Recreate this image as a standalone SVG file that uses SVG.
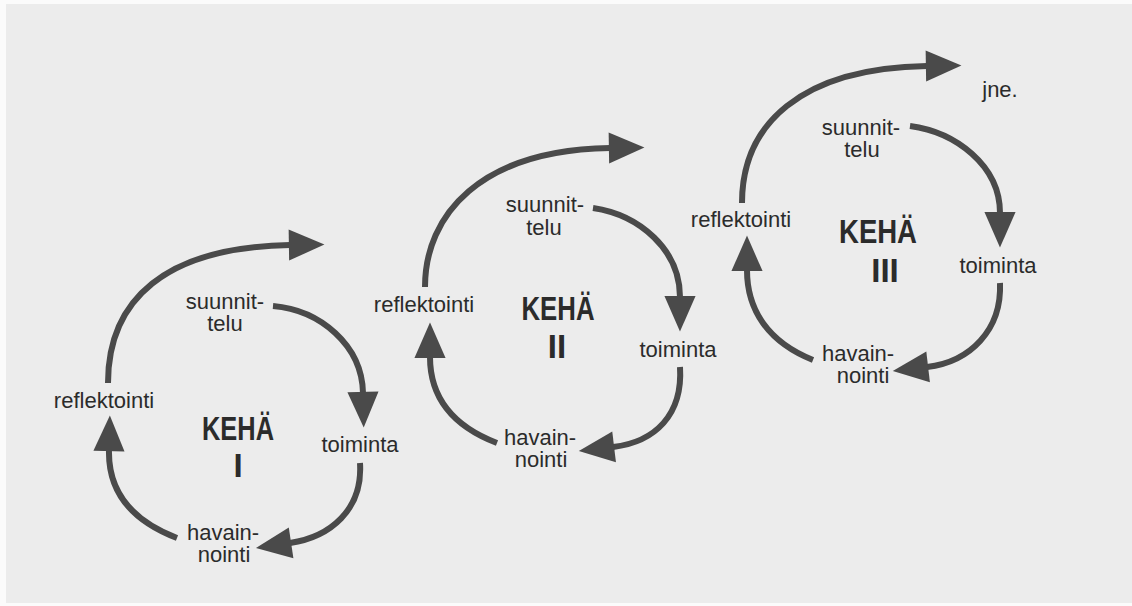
<svg xmlns="http://www.w3.org/2000/svg" width="1132" height="606" viewBox="0 0 1132 606">
  <style>
    .lbl { font-family: "Liberation Sans", Arial, sans-serif; font-size: 22px; fill: #2b2b2b; text-anchor: middle; }
    .big { font-family: "Liberation Sans", Arial, sans-serif; font-size: 33px; font-weight: bold; fill: #2b2b2b; text-anchor: middle; }
    .arc { fill: none; stroke: #4a4a4a; stroke-width: 6; marker-end: url(#head); }
  </style>
  <defs>
    <marker id="head" markerUnits="userSpaceOnUse" markerWidth="40" markerHeight="40" viewBox="-2 -15 36 30" refX="1" refY="0" orient="auto">
      <path d="M0,-14 L32,0 L0,14 Z" fill="#4a4a4a"/>
    </marker>
  </defs>
  <rect x="0" y="0" width="1132" height="606" fill="#fbfbfb"/>
  <rect x="6" y="4" width="1126" height="599" fill="#ececec"/>

  <g id="connectors">
    <!-- cycle I -->
    <path class="arc" d="M108,383 C108,300 165,247 290,245"/>
    <path class="arc" d="M273,306 C320,310 362,345 363,393"/>
    <path class="arc" d="M360,463 C363,510 330,537 290,543"/>
    <path class="arc" d="M177,538 C130,520 108,490 109,450"/>
    <!-- cycle II -->
    <path class="arc" d="M425,287 C425,215 480,150 610,148"/>
    <path class="arc" d="M593,208 C640,215 680,250 680,297"/>
    <path class="arc" d="M680,367 C683,415 655,442 613,447"/>
    <path class="arc" d="M497,443 C450,425 430,395 430,357"/>
    <!-- cycle III -->
    <path class="arc" d="M742,203 C742,125 800,68 927,66"/>
    <path class="arc" d="M910,126 C955,132 1000,165 1000,213"/>
    <path class="arc" d="M1000,283 C1002,330 970,362 927,367"/>
    <path class="arc" d="M813,360 C768,342 747,310 747,270"/>
  </g>

  <!-- cycle I -->
  <g id="c1-suunnittelu"><text class="lbl" x="225" y="309">suunnit-</text><text class="lbl" x="225" y="331">telu</text></g>
  <g id="c1-toiminta"><text class="lbl" x="360" y="452">toiminta</text></g>
  <g id="c1-havainnointi"><text class="lbl" x="223" y="540">havain-</text><text class="lbl" x="224" y="562">nointi</text></g>
  <g id="c1-reflektointi"><text class="lbl" x="104" y="408">reflektointi</text></g>
  <g id="c1-keha"><text class="big" x="238" y="440" textLength="72" lengthAdjust="spacingAndGlyphs">KEHÄ</text><text class="big" x="238" y="477">I</text></g>

  <!-- cycle II -->
  <g id="c2-suunnittelu"><text class="lbl" x="545" y="212">suunnit-</text><text class="lbl" x="544" y="235">telu</text></g>
  <g id="c2-toiminta"><text class="lbl" x="678" y="357">toiminta</text></g>
  <g id="c2-havainnointi"><text class="lbl" x="540" y="445">havain-</text><text class="lbl" x="541" y="467">nointi</text></g>
  <g id="c2-reflektointi"><text class="lbl" x="424" y="312">reflektointi</text></g>
  <g id="c2-keha"><text class="big" x="558" y="320" textLength="73" lengthAdjust="spacingAndGlyphs">KEHÄ</text><text class="big" x="557" y="358">II</text></g>

  <!-- cycle III -->
  <g id="c3-suunnittelu"><text class="lbl" x="861" y="135">suunnit-</text><text class="lbl" x="862" y="157">telu</text></g>
  <g id="c3-toiminta"><text class="lbl" x="998" y="273">toiminta</text></g>
  <g id="c3-havainnointi"><text class="lbl" x="858" y="361">havain-</text><text class="lbl" x="863" y="383">nointi</text></g>
  <g id="c3-reflektointi"><text class="lbl" x="741" y="227">reflektointi</text></g>
  <g id="c3-keha"><text class="big" x="878" y="243" textLength="78" lengthAdjust="spacingAndGlyphs">KEHÄ</text><text class="big" x="885" y="282">III</text></g>

  <g id="jne"><text class="lbl" x="1000" y="97">jne.</text></g>
</svg>
